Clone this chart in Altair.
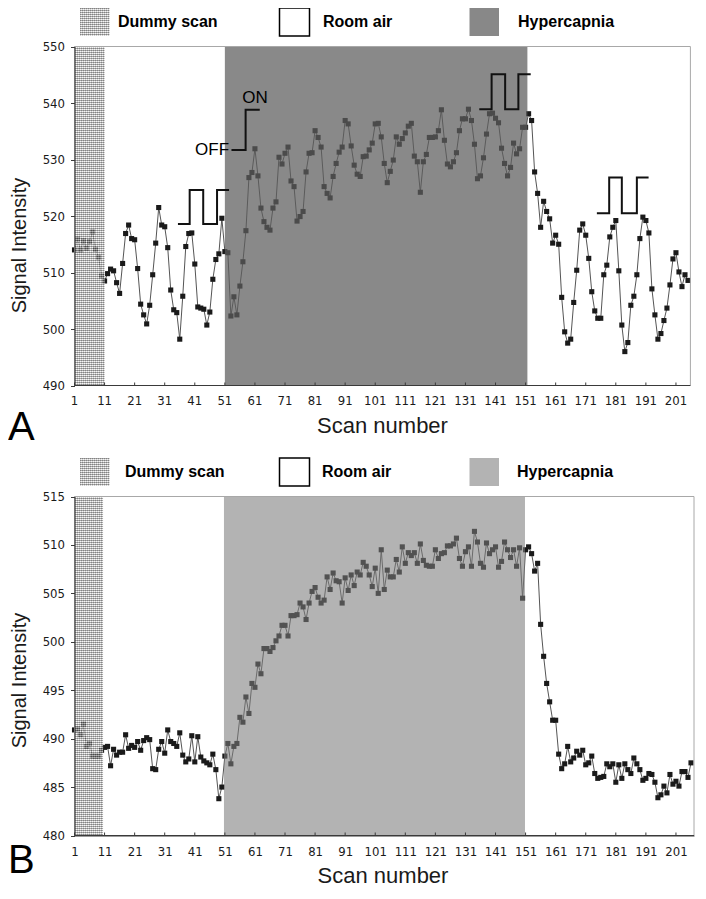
import altair as alt
import pandas as pd

# ---------------- data ----------------
signal_a = [
    514.0, 515.9, 514.0, 515.6, 514.3, 515.5, 517.2, 514.1, 512.7, 509.4,
    508.5, 509.8, 510.6, 510.3, 508.2, 506.3, 511.6, 516.9, 518.4, 516.0,
    515.8, 510.7, 504.4, 502.5, 500.9, 504.2, 509.6, 515.2, 521.5, 518.4,
    518.1, 514.4, 506.9, 503.4, 502.9, 498.2, 505.8, 514.6, 516.9, 517.0,
    511.5, 503.9, 503.7, 503.5, 500.7, 503.0, 508.8, 512.3, 513.3, 519.6,
    513.7, 513.5, 502.3, 505.7, 502.5, 507.6, 511.9, 517.4, 526.8, 527.7,
    531.9, 527.1, 521.4, 519.0, 518.0, 517.5, 521.4, 522.5, 530.4, 529.2,
    531.1, 532.2, 526.2, 525.2, 519.1, 519.9, 520.8, 527.8, 531.1, 531.2,
    535.1, 533.9, 532.2, 525.2, 524.0, 523.2, 527.0, 529.3, 531.3, 532.2,
    536.9, 536.3, 532.4, 529.0, 527.4, 527.0, 530.5, 530.6, 531.7, 532.9,
    536.3, 536.4, 534.0, 529.3, 525.9, 527.9, 529.9, 534.0, 532.7, 533.7,
    534.7, 535.9, 536.4, 530.6, 529.6, 524.2, 529.6, 530.9, 533.9, 533.9,
    534.0, 535.1, 538.8, 533.4, 529.2, 528.7, 529.6, 531.2, 535.1, 537.2,
    537.2, 538.9, 536.9, 532.7, 526.6, 527.1, 530.3, 534.5, 538.1, 538.2,
    537.3, 536.5, 532.0, 529.3, 527.1, 528.6, 532.9, 531.0, 531.9, 535.7,
    535.7, 538.1, 536.9, 527.8, 524.0, 518.0, 522.6, 520.8, 519.5, 515.2,
    516.6, 515.0, 505.6, 499.5, 497.5, 498.2, 504.7, 510.4, 517.5, 518.6,
    516.6, 512.5, 506.6, 503.2, 501.9, 501.9, 509.6, 511.3, 516.3, 518.0,
    519.2, 510.3, 500.7, 496.0, 497.6, 504.2, 505.8, 509.6, 516.0, 519.8,
    519.2, 517.0, 507.1, 502.5, 498.2, 499.2, 501.5, 503.7, 507.8, 512.4,
    513.5, 510.1, 507.5, 509.6, 508.6,
]
signal_b = [
    490.9, 491.0, 490.4, 491.5, 489.2, 489.5, 488.2, 488.2, 488.2, 488.8,
    489.1, 489.2, 487.2, 488.9, 488.3, 488.6, 488.6, 490.4, 489.0, 489.3,
    489.1, 489.7, 488.8, 489.8, 490.1, 489.9, 486.9, 486.8, 488.9, 489.7,
    488.5, 490.9, 489.7, 489.5, 489.2, 490.6, 488.3, 487.6, 487.9, 490.3,
    487.6, 490.2, 488.1, 487.7, 487.5, 487.3, 488.4, 486.8, 483.8, 485.0,
    488.2, 489.5, 487.4, 489.2, 489.5, 492.2, 491.7, 494.3, 492.6, 495.7,
    495.3, 497.7, 496.7, 499.3, 499.3, 499.0, 499.4, 500.1, 500.6, 501.7,
    501.7, 500.6, 502.7, 502.7, 502.8, 504.0, 503.6, 502.3, 504.0, 505.2,
    505.6, 504.6, 504.0, 504.3, 506.7, 505.4, 507.1, 506.3, 506.2, 504.0,
    506.6, 505.3, 506.9, 505.8, 507.2, 506.9, 508.2, 507.8, 506.9, 505.7,
    507.6, 505.0, 509.5, 505.4, 507.4, 506.7, 506.7, 508.5, 507.2, 509.8,
    508.1, 509.2, 508.9, 509.2, 508.1, 510.1, 508.4, 507.9, 507.8, 507.8,
    509.5, 508.6, 509.1, 509.2, 509.9, 509.9, 510.1, 510.7, 508.6, 507.8,
    509.3, 509.8, 507.8, 511.4, 510.3, 508.1, 507.7, 510.2, 509.1, 509.5,
    509.8, 507.7, 508.3, 510.3, 509.5, 508.7, 509.5, 507.8, 509.7, 504.5,
    509.5, 509.8, 509.1, 507.3, 508.1, 501.8, 498.5, 495.7, 493.8, 491.9,
    491.9, 488.4, 486.9, 487.4, 489.2, 487.6, 488.0, 488.7, 488.3, 488.8,
    487.3, 487.5, 488.2, 486.4, 485.9, 486.0, 486.1, 487.4, 487.1, 487.4,
    485.5, 487.3, 485.9, 487.4, 486.8, 486.4, 488.0, 487.4, 486.8, 485.7,
    485.9, 486.4, 486.3, 485.5, 483.9, 484.2, 485.1, 484.4, 486.3, 485.3,
    485.6, 485.1, 486.6, 486.6, 486.0, 487.5,
]
scan_a = list(range(1, len(signal_a) + 1))
scan_b = list(range(1, len(signal_b) + 1))

x_ticks = list(range(1, 202, 10))
y_ticks_a = [490, 500, 510, 520, 530, 540, 550]
y_ticks_b = [480, 485, 490, 495, 500, 505, 510, 515]
y_dom_a = [490, 550]
y_dom_b = [480, 515]

legend_labels = ["Dummy scan", "Room air", "Hypercapnia"]
panel_letters = ["A", "B"]
x_title = "Scan number"
y_title = "Signal Intensity"

# phases (scan units)
dummy_a = [1, 11]
hyper_a = [51, 151.6]
dummy_b = [1, 10.5]
hyper_b = [50.7, 150.8]
x_end_a = 205.8
x_end_b = 207

# square-wave / step symbols in panel A (scan, signal)
wave1_x = [35.4, 39.3, 39.3, 43.8, 43.8, 48.4, 48.4, 52.4]
wave1_y = [518.6, 518.6, 524.6, 524.6, 518.6, 518.6, 524.6, 524.6]
step_x = [53.2, 57.9, 57.9, 62.6]
step_y = [531.7, 531.7, 538.8, 538.8]
wave2_x = [135.6, 139.7, 139.7, 144.2, 144.2, 148.6, 148.6, 152.7]
wave2_y = [538.9, 538.9, 545.1, 545.1, 538.9, 538.9, 545.1, 545.1]
wave3_x = [174.7, 178.8, 178.8, 183.0, 183.0, 188.0, 188.0, 191.9]
wave3_y = [520.5, 520.5, 526.8, 526.8, 520.5, 520.5, 526.8, 526.8]
off_label = ["OFF", 52.4, 531.7]
on_label = ["ON", 61.0, 540.9]

# ---------------- style / layout ----------------
NARROW = "Liberation Sans Narrow, Arial Narrow, DejaVu Sans Condensed, Liberation Sans, sans-serif"
SANS = "Liberation Sans, Arial, sans-serif"
W = 619.5
H = 827.5
A_TOP, A_BOT = 38.5, 377.5
B_TOP, B_BOT = 488.5, 827.5
HYPER_A = "#5d5d5d"
HYPER_B = "#7b7b7b"
AXC = "#3a3a3a"
TXT = "#1a1a1a"
HATCH_DARK = "#5a5a5a"
HATCH_LIGHT = "#f2f2f2"


def stripes(n, vertical):
    """Hard-stop linear gradient giving n dark/light stripe pairs (a fine hatch texture)."""
    stops = []
    for i in range(n):
        a, m, b = i / n, (i + 0.5) / n, (i + 1) / n
        stops += [alt.GradientStop(color=HATCH_DARK, offset=a),
                  alt.GradientStop(color=HATCH_DARK, offset=m),
                  alt.GradientStop(color=HATCH_LIGHT, offset=m),
                  alt.GradientStop(color=HATCH_LIGHT, offset=b)]
    if vertical:
        return alt.LinearGradient(gradient="linear", stops=stops, x1=0, y1=0, x2=1, y2=0)
    return alt.LinearGradient(gradient="linear", stops=stops, x1=0, y1=0, x2=0, y2=1)


x_scale = alt.Scale(domain=[1, x_end_b], nice=False, zero=False)
x_axis = alt.Axis(values=x_ticks, title=x_title, orient="bottom", ticks=False, tickSize=0,
                  domainColor=AXC, labelFont=NARROW, labelFontSize=13, labelColor=TXT,
                  labelPadding=15.5, labelBaseline="middle", labelFlush=False, labelOverlap=False,
                  grid=False, titleFont=SANS, titleFontSize=22, titleFontWeight="normal",
                  titleColor=TXT, titleX=308, titleY=47, titleBaseline="alphabetic",
                  titleAlign="center", zindex=1)


def y_axis(values, title_y):
    return alt.Axis(values=values, orient="left", title=y_title, grid=False,
                    domainColor=AXC, tickColor=AXC, tickSize=4, labelPadding=6,
                    labelFont=NARROW, labelFontSize=13, labelColor=TXT,
                    titleFont=SANS, titleFontSize=20, titleFontWeight="normal",
                    titleColor=TXT, titleX=-55, titleY=title_y, titleAngle=270,
                    titleBaseline="middle", titleAlign="center", zindex=1)


y_scale_a = alt.Scale(domain=y_dom_a, range=[A_BOT, A_TOP], nice=False, zero=False)
y_scale_b = alt.Scale(domain=y_dom_b, range=[B_BOT, B_TOP], nice=False, zero=False)
y_axis_a = y_axis(y_ticks_a, 237)
y_axis_b = y_axis(y_ticks_b, 672)


def X(f):
    return alt.X(f, type="quantitative", scale=x_scale, axis=x_axis)


def YA(f):
    return alt.Y(f, type="quantitative", scale=y_scale_a, axis=y_axis_a)


def YB(f):
    return alt.Y(f, type="quantitative", scale=y_scale_b, axis=y_axis_b)


one = pd.DataFrame({"k": [0]})


def hatch_layers(enc, w_px, h_px, opacity):
    out = []
    for vertical, npx in ((True, w_px), (False, h_px)):
        n = max(1, int(round(npx / 2.0)))
        out.append(alt.Chart(enc[0]).mark_rect(fill=stripes(n, vertical), opacity=opacity)
                   .encode(**enc[1]))
    return out


def panel(scan, signal, Y, top, bot, dummy, hyper, x_end, hyper_fill, hyper_op, hyper_swatch,
          letter, letter_y, text_x0, show_xlabels):
    df = pd.DataFrame({"scan": scan, "signal": signal})
    line = alt.Chart(df).mark_line(color="#555555", strokeWidth=1).encode(x=X("scan"), y=Y("signal"))
    pts = alt.Chart(df).mark_square(size=26, color="#1a1a1a", opacity=1).encode(x=X("scan"), y=Y("signal"))
    hdf = pd.DataFrame({"x0": [hyper[0]], "x1": [hyper[1]]})
    over = alt.Chart(hdf).mark_rect(fill=hyper_fill, opacity=hyper_op).encode(
        x=X("x0"), x2="x1", y=alt.value(top), y2=alt.value(bot))
    ddf = pd.DataFrame({"x0": [dummy[0]], "x1": [dummy[1]]})
    dw = (dummy[1] - dummy[0]) * W / (x_end_b - 1)
    hatch = hatch_layers((ddf, dict(x=X("x0"), x2="x1", y=alt.value(top), y2=alt.value(bot))),
                         dw, bot - top, 0.5)
    fr = pd.DataFrame({"x0": [1], "x1": [x_end]})
    frame = alt.Chart(fr).mark_rect(fillOpacity=0, stroke="#a8a8a8", strokeWidth=1).encode(
        x=X("x0"), x2="x1", y=alt.value(top), y2=alt.value(bot))
    base = alt.Chart(fr).mark_rule(color=AXC, strokeWidth=1).encode(
        x=X("x0"), x2="x1", y=alt.value(bot))
    tk = pd.DataFrame({"tick": x_ticks, "label": [str(t) for t in x_ticks]})
    ticks = alt.Chart(tk).mark_rule(color=AXC, strokeWidth=1).encode(
        x=X("tick"), y=alt.value(bot), y2=alt.value(bot - 3))
    layers = [line, pts, over] + hatch + [frame, base, ticks]
    if show_xlabels:
        labs = alt.Chart(tk).mark_text(font=NARROW, fontSize=13, color=TXT, baseline="middle").encode(
            x=X("tick"), text="label:N", y=alt.value(bot + 15.5))
        ttl = alt.Chart(one).mark_text(text=x_title, font=SANS, fontSize=22, color=TXT,
                                       baseline="alphabetic", align="center").encode(
            x=alt.value(308), y=alt.value(bot + 47))
        layers += [labs, ttl]
    # panel letter
    layers.append(alt.Chart(one).mark_text(text=letter, font=SANS, fontSize=40, color="#000",
                                           align="left", baseline="alphabetic").encode(
        x=alt.value(-66.5), y=alt.value(letter_y)))
    # legend
    ly0, ly1 = top - 38.5, top - 10.5
    lyc = (ly0 + ly1) / 2
    # dummy-scan swatch (hatched)
    layers += hatch_layers((one, dict(x=alt.value(5.5), x2=alt.value(35), y=alt.value(ly0),
                                      y2=alt.value(ly1))), 29.5, 28, 0.5)
    layers.append(alt.Chart(one).mark_rect(fill="#ffffff", stroke="#000000", strokeWidth=1.5).encode(
        x=alt.value(205), x2=alt.value(235), y=alt.value(ly0), y2=alt.value(ly1)))
    layers.append(alt.Chart(one).mark_rect(fill=hyper_swatch).encode(
        x=alt.value(395), x2=alt.value(424.5), y=alt.value(ly0), y2=alt.value(ly1)))
    for lab, tx in zip(legend_labels, text_x0):
        layers.append(alt.Chart(one).mark_text(text=lab, font=SANS, fontSize=16, fontWeight="bold",
                                               color="#000", align="left", baseline="middle").encode(
            x=alt.value(tx), y=alt.value(lyc)))
    return layers


layers_a = panel(scan_a, signal_a, YA, A_TOP, A_BOT, dummy_a, hyper_a, x_end_a, HYPER_A, 0.73,
                 "#888888", panel_letters[0], 432, [43.5, 248.5, 443.5], True)

# annotation symbols in panel A
rows = []
for sid, (xs, ys) in enumerate([(wave1_x, wave1_y), (step_x, step_y), (wave2_x, wave2_y), (wave3_x, wave3_y)]):
    for i, (xv, yv) in enumerate(zip(xs, ys)):
        rows.append({"seg": sid, "ord": i, "x": xv, "y": yv})
ann = pd.DataFrame(rows)
waves = alt.Chart(ann).mark_line(color="#111111", strokeWidth=2).encode(
    x=X("x"), y=YA("y"), detail="seg:N", order="ord:Q")
offdf = pd.DataFrame({"t": [off_label[0]], "x": [off_label[1]], "y": [off_label[2]]})
ondf = pd.DataFrame({"t": [on_label[0]], "x": [on_label[1]], "y": [on_label[2]]})
off_t = alt.Chart(offdf).mark_text(font=SANS, fontSize=17, color="#000", align="right",
                                   baseline="middle").encode(x=X("x"), y=YA("y"), text="t:N")
on_t = alt.Chart(ondf).mark_text(font=SANS, fontSize=17, color="#000", align="center",
                                 baseline="middle").encode(x=X("x"), y=YA("y"), text="t:N")
layers_a += [waves, off_t, on_t]

layers_b = panel(scan_b, signal_b, YB, B_TOP, B_BOT, dummy_b, hyper_b, x_end_b, HYPER_B, 0.575,
                 "#b3b3b3", panel_letters[1], 865, [50.5, 247.5, 442.5], False)

group_a = alt.layer(*layers_a)
group_b = alt.layer(*layers_b)

chart = alt.layer(group_a, group_b).resolve_scale(y="independent").properties(
    width=W, height=H,
    padding={"left": 66.5, "top": 0, "right": 4, "bottom": 52},
    autosize=alt.AutoSizeParams(type="none"),
).configure_view(stroke=None)

chart.save("out.html", embed_options={"renderer": "svg", "actions": False})
